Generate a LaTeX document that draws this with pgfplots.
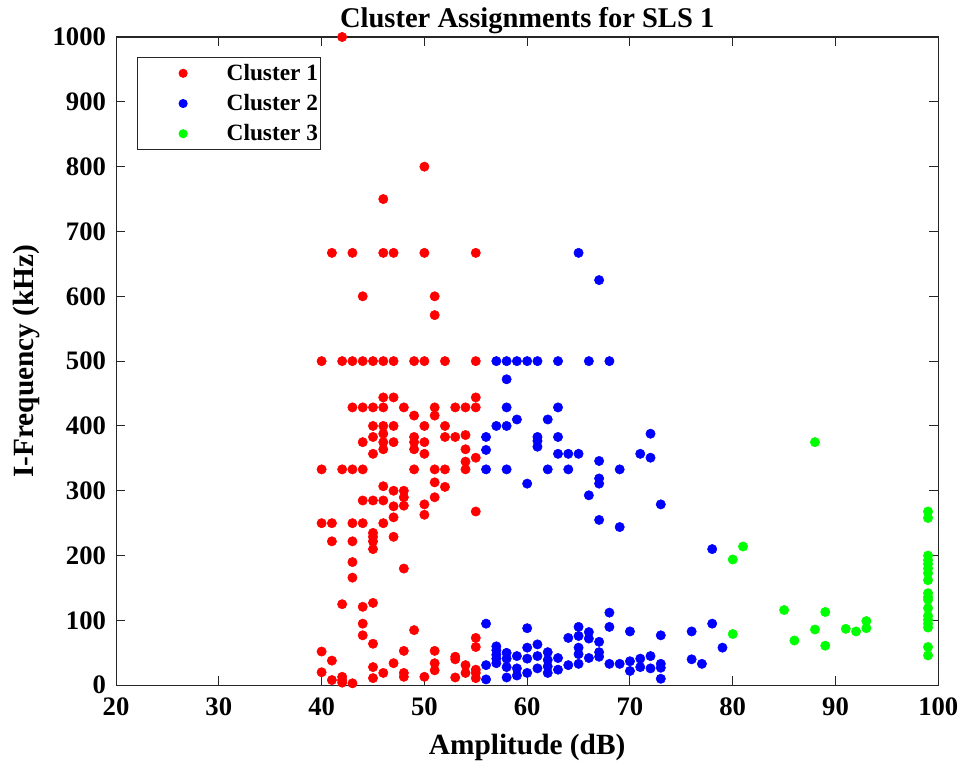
\documentclass[border=0pt]{standalone}
\usepackage{fontspec}
\setmainfont{Liberation Serif}
\usepackage{pgfplots}
\pgfplotsset{compat=1.18}
\definecolor{axgray}{gray}{0.15}
\definecolor{c1}{rgb}{1,0,0}
\definecolor{c2}{rgb}{0,0,1}
\definecolor{c3}{rgb}{0,1,0}

\begin{document}
\begin{tikzpicture}
\begin{axis}[
    scale only axis,
    width=616.5pt, height=486pt,
    at={(0pt,0pt)}, anchor=south west,
    xmin=20, xmax=100, ymin=0, ymax=1000,
    xtick={20,30,...,100}, ytick={0,100,...,1000},
    tick align=inside, xtick pos=both, ytick pos=both,
    major tick length=7pt,
    axis line style={axgray, line width=0.8pt},
    tick style={axgray, line width=0.8pt},
    tick label style={font=\fontsize{20}{23}\selectfont\bfseries},
    xticklabel style={yshift=-5.5pt},
    yticklabel style={xshift=-4pt},
    /pgf/number format/assume math mode=true,
    /pgf/number format/set thousands separator={},
    title={Cluster Assignments for SLS 1},
    title style={font=\fontsize{21.4}{24}\selectfont\bfseries, at={(0.5,1)}, anchor=base, yshift=1.5pt},
    xlabel={Amplitude (dB)},
    ylabel={I-Frequency (kHz)},
    label style={font=\fontsize{22}{25}\selectfont\bfseries},
    xlabel style={at={(axis description cs:0.5,-0.0957)}, anchor=center},
    ylabel style={at={(axis description cs:-0.1087,0.5)}, anchor=center},
    legend style={at={(0,1)}, xshift=15.75pt, yshift=-15pt, anchor=north west,
        draw=axgray, line width=0.8pt, font=\fontsize{17.5}{21}\selectfont\bfseries,
        row sep=5pt, inner xsep=0pt, inner ysep=3pt},
    legend cell align=left,
    legend image code/.code={
        \path (0pt,0pt) (64pt,0pt);
        \draw[#1, mark size=3pt] plot coordinates {(33.75pt,0pt)};
    },
    clip=false,
]
% Cluster 1
\addplot[only marks, mark=*, mark size=3.5pt, color=c1] coordinates {
(40,500) (40,333) (40,250) (40,52) (40,20)
(41,667) (41,250) (41,222) (41,38) (41,8)
(42,1000) (42,500) (42,333) (42,125) (42,13) (42,8) (42,4)
(43,667) (43,500) (43,428.6) (43,333) (43,250) (43,222) (43,190) (43,166) (43,3)
(44,600) (44,500) (44,428.6) (44,375) (44,333) (44,285) (44,250) (44,121) (44,95) (44,77)
(45,500) (45,428.6) (45,400) (45,383) (45,357) (45,285) (45,235) (45,229) (45,222) (45,210) (45,127) (45,64) (45,28) (45,11)
(46,750) (46,667) (46,500) (46,444) (46,428.6) (46,400) (46,388) (46,375) (46,364) (46,307) (46,285) (46,250) (46,19)
(47,667) (47,500) (47,444) (47,400) (47,375) (47,300) (47,276) (47,259) (47,229) (47,34)
(48,428.6) (48,300) (48,290) (48,277) (48,180) (48,53) (48,19) (48,13)
(49,500) (49,416) (49,383) (49,375) (49,364) (49,333) (49,85)
(50,800) (50,667) (50,500) (50,400) (50,375) (50,357) (50,279) (50,263) (50,13)
(51,600) (51,571) (51,428.6) (51,416) (51,333) (51,313) (51,290) (51,53) (51,34) (51,23)
(52,500) (52,400) (52,383) (52,333) (52,306)
(53,428.6) (53,383) (53,44) (53,40) (53,12)
(54,428.6) (54,386) (54,364) (54,345) (54,333) (54,31) (54,19)
(55,667) (55,500) (55,444) (55,428.6) (55,351) (55,268) (55,73) (55,59) (55,24) (55,19) (55,11)
};
% Cluster 2
\addplot[only marks, mark=*, mark size=3.5pt, color=c2] coordinates {
(56,383) (56,363) (56,333) (56,95) (56,31) (56,9)
(57,500) (57,400) (57,60) (57,54) (57,47) (57,41) (57,34)
(58,500) (58,472) (58,428.6) (58,400) (58,333) (58,50) (58,41) (58,28) (58,12)
(59,500) (59,410) (59,45) (59,26) (59,15)
(60,500) (60,311) (60,88) (60,58) (60,41) (60,19)
(61,500) (61,383) (61,377) (61,368) (61,63) (61,45) (61,26)
(62,410) (62,333) (62,51) (62,39) (62,29) (62,19)
(63,500) (63,428.6) (63,383) (63,357) (63,42) (63,24)
(64,357) (64,333) (64,73) (64,31)
(65,667) (65,357) (65,90) (65,76) (65,58) (65,48) (65,33)
(66,500) (66,293) (66,82) (66,72) (66,42)
(67,625) (67,346) (67,319) (67,311) (67,255) (67,67) (67,51) (67,44)
(68,500) (68,112) (68,90) (68,33)
(69,333) (69,244) (69,33)
(70,83) (70,37) (70,22)
(71,357) (71,41) (71,28)
(72,388) (72,351) (72,45) (72,26)
(73,279) (73,77) (73,33) (73,27) (73,10)
(76,83) (76,40)
(77,33)
(78,210) (78,95)
(79,58)
};
% Cluster 3
\addplot[only marks, mark=*, mark size=3.5pt, color=c3] coordinates {
(80,194) (80,79)
(81,214)
(85,116)
(86,69)
(88,375) (88,86)
(89,113) (89,61)
(91,87)
(92,83)
(93,99) (93,88)
(99,268) (99,258) (99,200) (99,193) (99,187) (99,180) (99,173) (99,162)
(99,142) (99,136) (99,132) (99,119) (99,107) (99,101) (99,95) (99,89)
(99,59) (99,46)
};
\legend{Cluster 1, Cluster 2, Cluster 3}
\end{axis}
\pgfresetboundingbox
\path[use as bounding box] (-87pt,-60pt) rectangle (636.5pt,513.75pt);
\end{tikzpicture}
\end{document}
